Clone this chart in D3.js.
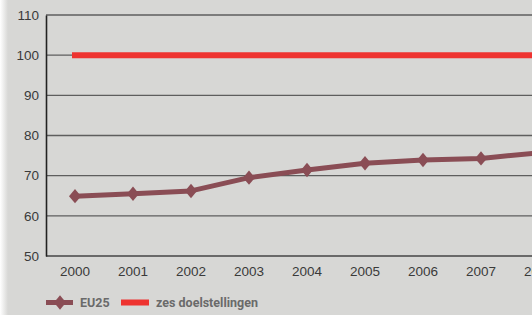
<!DOCTYPE html>
<html><head><meta charset="utf-8">
<script src="https://cdn.jsdelivr.net/npm/d3@7"></script>
<style>body{margin:0;background:#d7d7d5;}svg{display:block;}</style>
</head><body>
<svg id="c" width="532" height="315"></svg>
<script>
const years = ["2000","2001","2002","2003","2004","2005","2006","2007","2008","2009"];
const eu25 = [64.9, 65.5, 66.2, 69.5, 71.4, 73.1, 73.9, 74.3, 75.7, null];
const target = [100,100,100,100,100,100,100,100,100,100];
const yTicks = [50,60,70,80,90,100,110];
const seriesNames = ["EU25","zes doelstellingen"];

(function(){
const svg = d3.select("#c");
const W = 532, H = 315;
const defs = svg.append("defs");
const g = defs.append("linearGradient").attr("id","edge").attr("x1","0").attr("x2","1");
g.append("stop").attr("offset","0").attr("stop-color","#ffffff");
g.append("stop").attr("offset","1").attr("stop-color","#d7d7d5");
svg.append("rect").attr("width",W).attr("height",H).attr("fill","#d7d7d5");
svg.append("rect").attr("width",8).attr("height",H).attr("fill","url(#edge)");

const mLeft = 46, mTop = 15, mBottom = 256;
const x = d3.scaleBand().domain(years).range([mLeft, mLeft + 58*years.length]);
const y = d3.scaleLinear().domain([50,110]).range([mBottom, mTop]);
const cx = d => x(d) + x.bandwidth()/2;

svg.append("g").selectAll("line").data(yTicks).join("line")
  .attr("x1", mLeft).attr("x2", W).attr("y1", d=>y(d)).attr("y2", d=>y(d))
  .attr("stroke", d => d===50 ? "#444" : "#5e5e5e").attr("stroke-width", d=> d===50?1.6:1.3);

const ya = svg.append("g").attr("transform",`translate(${mLeft},0)`)
  .call(d3.axisLeft(y).tickValues(yTicks).tickSize(0).tickPadding(7));
ya.select(".domain").attr("stroke","#222").attr("stroke-width",1.6);
ya.selectAll("text").attr("font-family","Liberation Sans, Arial, sans-serif").attr("font-size",13.5).attr("fill","#3a3a3a");

const xa = svg.append("g").attr("transform",`translate(0,${mBottom})`)
  .call(d3.axisBottom(x).tickSize(0).tickPadding(10));
xa.select(".domain").remove();
xa.selectAll("text").attr("font-family","Liberation Sans, Arial, sans-serif").attr("font-size",13.5).attr("fill","#3a3a3a");

const line = d3.line().defined(d=>d[1]!=null).x(d=>cx(d[0])).y(d=>y(d[1]));
svg.append("path").datum(years.map((yr,i)=>[yr,target[i]]))
  .attr("d", line).attr("fill","none").attr("stroke","#ee3330").attr("stroke-width",6).attr("stroke-linecap","square");

const col = "#8a4d55";
const pts = years.map((yr,i)=>[yr,eu25[i]]).filter(d=>d[1]!=null);
svg.append("path").datum(pts).attr("d", line).attr("fill","none")
  .attr("stroke",col).attr("stroke-width",5).attr("stroke-linejoin","round");
const sq = d3.symbol().type(d3.symbolSquare).size(72)();
svg.append("g").selectAll("path").data(pts).join("path")
  .attr("d", sq)
  .attr("transform", d=>`translate(${cx(d[0])},${y(d[1])}) scale(1,1.2) rotate(45)`)
  .attr("fill", col);

const lg = svg.append("g").attr("font-family","'Liberation Sans Narrow', 'Roboto', sans-serif").attr("font-weight","bold").attr("font-size",12.5).attr("fill","#6a6a6a");
const ly = 302.5;
lg.append("line").attr("x1",46).attr("x2",73).attr("y1",ly).attr("y2",ly).attr("stroke",col).attr("stroke-width",5);
lg.append("path").attr("d", sq).attr("transform",`translate(60,${ly}) scale(1,1.2) rotate(45)`).attr("fill",col);
lg.append("text").attr("x",80).attr("y",ly+4.5).text(seriesNames[0]);
lg.append("rect").attr("x",121).attr("y",ly-3).attr("width",28).attr("height",6).attr("fill","#ee3330");
lg.append("text").attr("x",156).attr("y",ly+4.5).text(seriesNames[1]);
})();
</script>
</body></html>
